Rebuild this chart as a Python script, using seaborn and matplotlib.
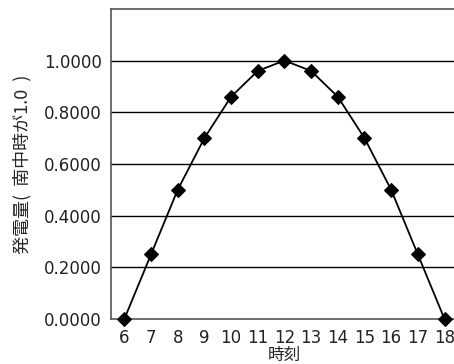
import numpy as np
import matplotlib
matplotlib.use("Agg")
import matplotlib.pyplot as plt
import pandas as pd
import seaborn as sns

# data
hours = [6, 7, 8, 9, 10, 11, 12, 13, 14, 15, 16, 17, 18]
output = [0.0, 0.25, 0.50, 0.70, 0.86, 0.96, 1.0, 0.96, 0.86, 0.70, 0.50, 0.25, 0.0]
y_ticks = [0.0, 0.2, 0.4, 0.6, 0.8, 1.0]
x_label = "時刻"
y_label = "発電量(  南中時が1.0  )"

df = pd.DataFrame({"hour": hours, "output": output})

sns.set_style("white")
plt.rcParams['font.family'] = ['DejaVu Sans', 'Noto Sans CJK JP']

fig = plt.figure(figsize=(4.54, 3.64), dpi=100)
ax = fig.add_axes([0.2445, 0.1236, 0.764, 0.852])

for yv in y_ticks[1:]:
    ax.axhline(yv, color='black', lw=1.0, zorder=1)

sns.lineplot(data=df, x='hour', y='output', ax=ax, color='black', lw=1.3,
             marker='D', markersize=7, markeredgecolor='black', clip_on=False, zorder=3)

ax.set_xlim(5.5, 18.5)
ax.set_ylim(0, 1.2)
ax.set_yticks(y_ticks)
ax.set_yticklabels([f"{v:.4f}" for v in y_ticks], fontsize=12, color='#222222')
ax.set_xticks(hours)
ax.set_xticklabels([str(h) for h in hours], fontsize=12, color='#222222')
ax.set_xticks(np.arange(6.5, 18.5, 1.0), minor=True)
ax.tick_params(axis='x', which='major', length=0, pad=7)
ax.tick_params(axis='x', which='minor', length=5, direction='in', color='#333333', width=1)
ax.tick_params(axis='y', length=0, pad=6.5)

ax.set_xlabel(x_label, fontsize=12, labelpad=0, family=['Noto Sans CJK JP', 'DejaVu Sans'])
ax.set_ylabel(y_label, fontsize=13, labelpad=9, family=['Noto Sans CJK JP', 'DejaVu Sans'])

for side in ['left', 'top', 'bottom']:
    ax.spines[side].set_color('#555555')
    ax.spines[side].set_linewidth(1.2)
ax.spines['right'].set_visible(False)

fig.savefig("out.png", dpi=100)
